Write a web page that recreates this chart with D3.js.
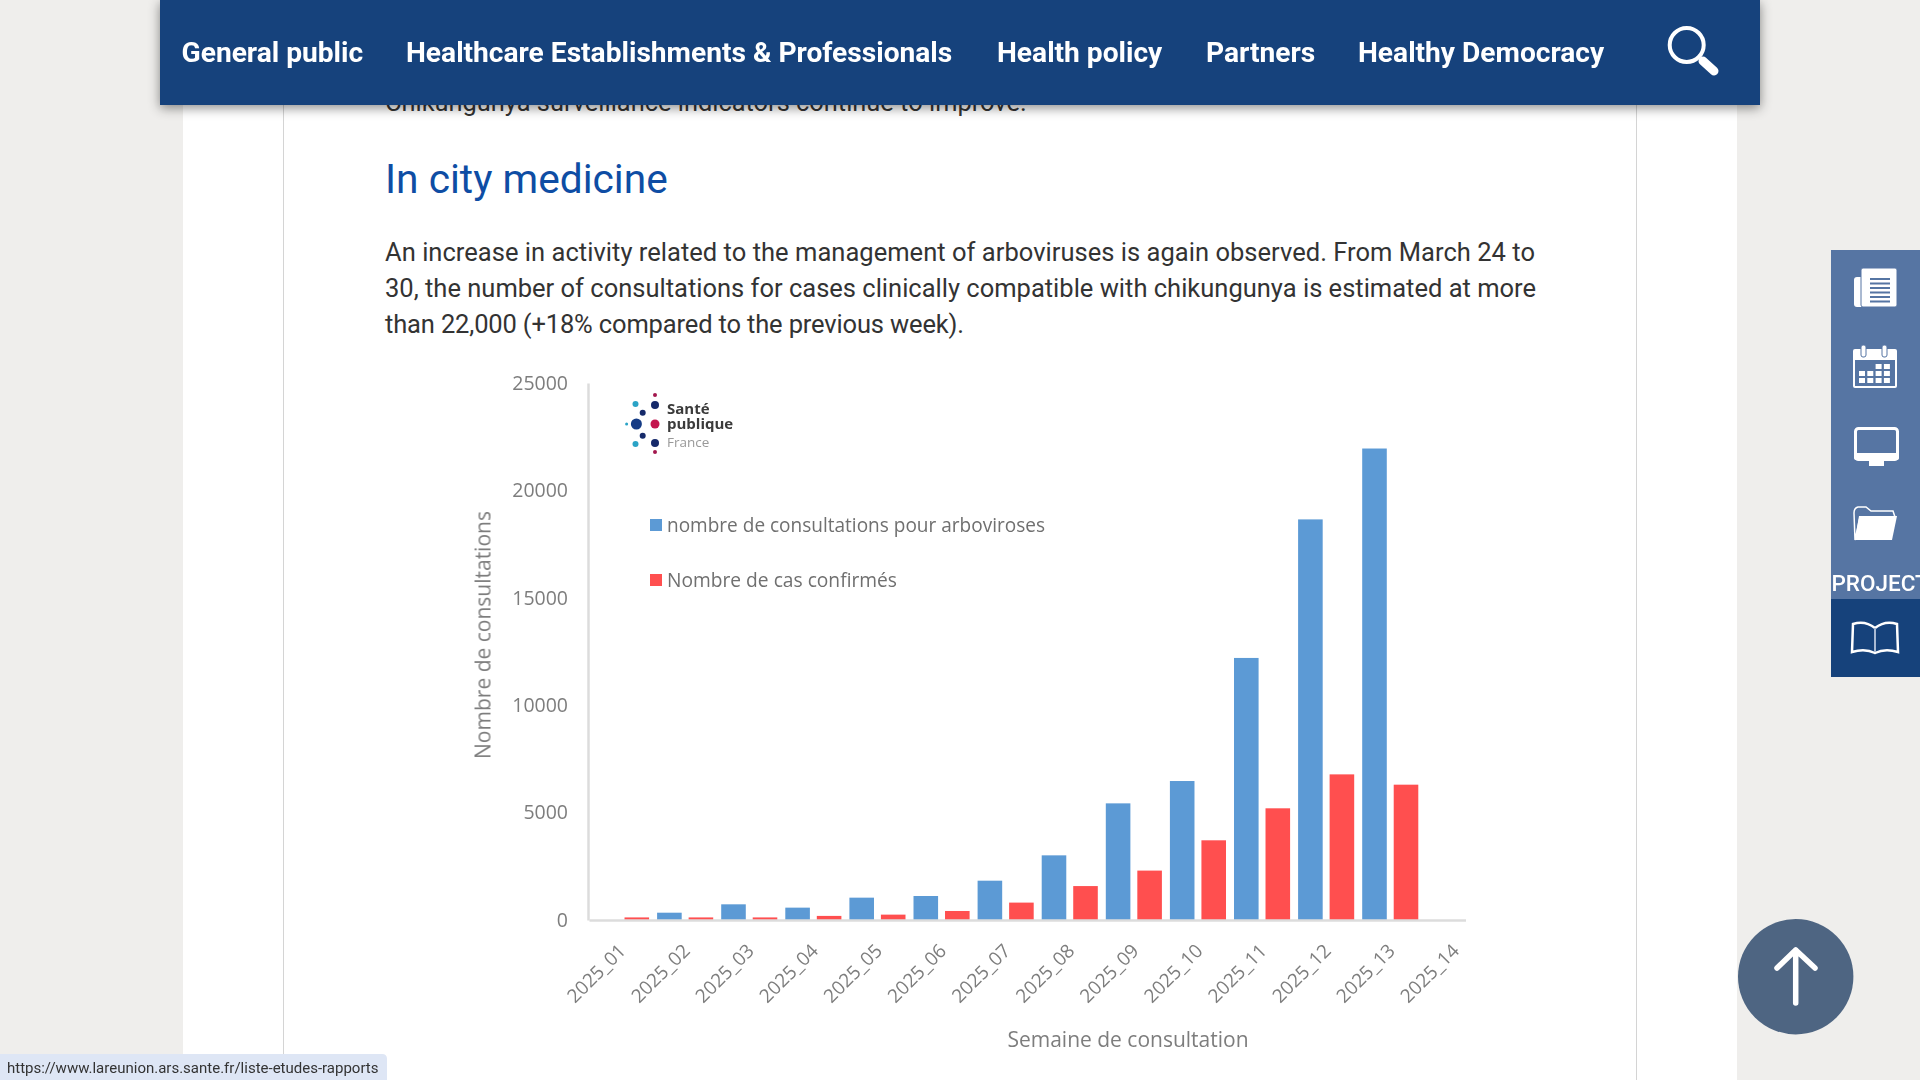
<!DOCTYPE html>
<html><head><meta charset="utf-8">
<script src="https://cdn.jsdelivr.net/npm/d3@7/dist/d3.min.js"></script>
<style>html,body{margin:0;padding:0;background:#efeeec;overflow:hidden}svg{display:block}</style>
</head><body><div id="c"></div>
<script>
const weeks = ["2025_01","2025_02","2025_03","2025_04","2025_05","2025_06","2025_07","2025_08","2025_09","2025_10","2025_11","2025_12","2025_13","2025_14"];
const consultations = [0,340,730,575,1040,1117,1830,3010,5430,6470,12200,18650,21950,null];
const confirmedCases = [120,120,120,190,250,420,810,1580,2300,3710,5200,6780,6300,null];
const yTicks = [0,5000,10000,15000,20000,25000];
const seriesNames = ["nombre de consultations pour arboviroses","Nombre de cas confirmés"];
const seriesColors = ["#5b9ad5","#ff4f50"];
const navItems = [["General public",181.5],["Healthcare Establishments & Professionals",406],["Health policy",997],["Partners",1206],["Healthy Democracy",1358]];
const paragraph = ["An increase in activity related to the management of arboviruses is again observed. From March 24 to","30, the number of consultations for cases clinically compatible with chikungunya is estimated at more","than 22,000 (+18% compared to the previous week)."];
const paragraphWidths = [1150,1151,579];
const legendWidths = [378,230];

const svg = d3.select("#c").append("svg").attr("width",1920).attr("height",1080);
const defs = svg.append("defs");
defs.append("filter").attr("id","soft").attr("x","-5%").attr("y","-5%").attr("width","110%").attr("height","110%")
  .append("feGaussianBlur").attr("stdDeviation",0.55);
defs.append("clipPath").attr("id","crop").append("rect").attr("x",440).attr("y",360).attr("width",1026).attr("height",700);
const sh = defs.append("filter").attr("id","shadow").attr("x","-2%").attr("y","-20%").attr("width","104%").attr("height","150%");
sh.append("feDropShadow").attr("dx",0).attr("dy",3).attr("stdDeviation",6).attr("flood-color","#000").attr("flood-opacity",0.45);

// page
svg.append("rect").attr("width",1920).attr("height",1080).attr("fill","#efeeec");
svg.append("rect").attr("x",183).attr("width",1554).attr("height",1080).attr("fill","#fff");
[283.5,1636.5].forEach(x=>svg.append("line").attr("x1",x).attr("x2",x).attr("y1",0).attr("y2",1080).attr("stroke","#d4d4d4"));

const bodyFont = "Roboto, sans-serif";
svg.append("text").attr("x",385).attr("y",111).attr("font-family",bodyFont).attr("font-size",25.4).attr("fill","#333")
  .text("Chikungunya surveillance indicators continue to improve.");
svg.append("text").attr("x",385).attr("y",193).attr("font-family",bodyFont).attr("font-size",40.7).attr("fill","#0e4da4").text("In city medicine");
svg.selectAll("text.p").data(paragraph).join("text").attr("class","p").attr("x",385).attr("y",(d,i)=>261+i*36)
  .attr("font-family",bodyFont).attr("font-size",25.5).attr("fill","#333")
  .attr("textLength",(d,i)=>paragraphWidths[i]).attr("lengthAdjust","spacing").text(d=>d);

// chart
const chart = svg.append("g").attr("clip-path","url(#crop)").append("g").attr("filter","url(#soft)");
const chartFont = "'Open Sans', sans-serif";
const axisGrey = "#7d7d7d";
const x0 = d3.scaleBand().domain(weeks).range([589,589+64.1*weeks.length]);
const x1 = d3.scaleBand().domain(seriesNames).range([0,x0.bandwidth()]).paddingInner(0.22).paddingOuter(0.127);
const y = d3.scaleLinear().domain([0,25000]).range([920,383]);

const yAxis = chart.append("g").attr("transform","translate(588,0)").call(d3.axisLeft(y).tickValues(yTicks).tickSize(0).tickPadding(20).tickFormat(d3.format("d")));
yAxis.select(".domain").attr("stroke","#dcdcdc").attr("stroke-width",2.5);
yAxis.selectAll("text").attr("font-family",chartFont).attr("font-size",19.5).attr("fill",axisGrey);

[consultations,confirmedCases].forEach((vals,s)=>{
  chart.append("g").selectAll("rect").data(weeks.map((w,i)=>({w,v:vals[i]})).filter(d=>d.v)).join("rect")
    .attr("x",d=>x0(d.w)+x1(seriesNames[s])).attr("width",x1.bandwidth())
    .attr("y",d=>y(d.v)).attr("height",d=>y(0)-y(d.v)).attr("fill",seriesColors[s]);
});

const xAxis = chart.append("g").attr("transform","translate(0,920)").call(d3.axisBottom(x0).tickSize(0));
xAxis.select(".domain").attr("stroke","#dcdcdc").attr("stroke-width",2.5);
xAxis.selectAll("text").attr("font-family",chartFont).attr("font-size",19).attr("fill",axisGrey)
  .attr("text-anchor","end").attr("dy",0).attr("y",0).attr("transform","translate(6,32) rotate(-45)");

chart.append("text").attr("transform","translate(490.5,635) rotate(-90)").attr("text-anchor","middle")
  .attr("font-family",chartFont).attr("font-size",21).attr("fill",axisGrey).text("Nombre de consultations");
chart.append("text").attr("x",1128).attr("y",1046.5).attr("text-anchor","middle")
  .attr("font-family",chartFont).attr("font-size",21).attr("fill",axisGrey).text("Semaine de consultation");

// legend
const legY = [519,574];
seriesNames.forEach((n,i)=>{
  chart.append("rect").attr("x",650).attr("y",legY[i]).attr("width",12).attr("height",12).attr("fill",seriesColors[i]);
  chart.append("text").attr("x",667).attr("y",legY[i]+13).attr("font-family",chartFont).attr("font-size",20).attr("fill","#6f6f6f")
    .attr("textLength",legendWidths[i]).attr("lengthAdjust","spacingAndGlyphs").text(n);
});

// logo
const logoDots = [[655,395,2,"#a3154f"],[655,405,4,"#14296b"],[635.5,404,3,"#2aa3c6"],[642.7,412.7,3,"#14296b"],[636.4,424,5.5,"#123a85"],[626.6,424,1.5,"#2aa3c6"],[655,424,4.5,"#c4124f"],[642.7,435.7,3,"#14296b"],[635.5,444,3,"#2aa3c6"],[655,443,4,"#14296b"],[655,452,2,"#a3154f"]];
chart.selectAll("circle.logo").data(logoDots).join("circle").attr("class","logo").attr("cx",d=>d[0]).attr("cy",d=>d[1]).attr("r",d=>d[2]).attr("fill",d=>d[3]);
[["Santé",414,15,"#3a3a3a",700],["publique",429,15,"#3a3a3a",700],["France",447,13.5,"#999",400]].forEach(t=>{
  chart.append("text").attr("x",667).attr("y",t[1]).attr("font-family",chartFont).attr("font-size",t[2]).attr("font-weight",t[4]).attr("fill",t[3]).text(t[0]);
});

// nav
svg.append("rect").attr("x",160).attr("y",0).attr("width",1600).attr("height",105).attr("fill","#16427b").attr("filter","url(#shadow)");
svg.selectAll("text.nav").data(navItems).join("text").attr("class","nav").attr("x",d=>d[1]).attr("y",62)
  .attr("font-family",bodyFont).attr("font-weight",700).attr("font-size",28.15).attr("fill","#fff").text(d=>d[0]);
const search = svg.append("g").attr("fill","none").attr("stroke","#fff").attr("stroke-linecap","round");
search.append("circle").attr("cx",1686.7).attr("cy",45).attr("r",17).attr("stroke-width",4);
search.append("line").attr("x1",1703).attr("y1",61).attr("x2",1714).attr("y2",71).attr("stroke-width",9);

// side bar
const sideBlue = "#5675a3";
svg.append("rect").attr("x",1831).attr("y",250).attr("width",89).attr("height",349).attr("fill",sideBlue);
svg.append("rect").attr("x",1831).attr("y",599).attr("width",89).attr("height",78).attr("fill","#16427b");
svg.append("text").attr("x",1831.5).attr("y",591).attr("font-family",bodyFont).attr("font-weight",500).attr("font-size",22.5).attr("fill","#fff").text("PROJECT");
const ic = svg.append("g");
// newspaper
ic.append("rect").attr("x",1854).attr("y",277).attr("width",10).attr("height",30).attr("rx",3).attr("fill","#fff");
ic.append("rect").attr("x",1861).attr("y",268).attr("width",36).attr("height",39).attr("rx",2).attr("fill","#fff").attr("stroke",sideBlue).attr("stroke-width",1);
d3.range(6).forEach(i=>ic.append("rect").attr("x",1870).attr("y",278+i*4.5).attr("width",20).attr("height",2).attr("fill",sideBlue));
// calendar
ic.append("rect").attr("x",1853).attr("y",349).attr("width",44).attr("height",39).attr("rx",2).attr("fill","#fff");
ic.append("rect").attr("x",1855).attr("y",360).attr("width",40).attr("height",26).attr("fill",sideBlue);
[[2,0],[3,0],[0,1],[1,1],[2,1],[3,1],[0,2],[1,2],[2,2],[3,2]].forEach(c=>ic.append("rect").attr("x",1859+c[0]*8.3).attr("y",364+c[1]*7).attr("width",6).attr("height",5).attr("fill","#fff"));
[1861,1882].forEach(x=>ic.append("rect").attr("x",x).attr("y",345).attr("width",5).attr("height",12).attr("rx",2).attr("fill","#fff").attr("stroke",sideBlue));
// monitor
ic.append("rect").attr("x",1855.5).attr("y",428.5).attr("width",42).attr("height",31).attr("rx",3).attr("fill",sideBlue).attr("stroke","#fff").attr("stroke-width",3);
ic.append("rect").attr("x",1854).attr("y",453).attr("width",45).attr("height",7).attr("rx",2).attr("fill","#fff");
ic.append("rect").attr("x",1869).attr("y",460).attr("width",15).attr("height",6).attr("fill","#fff");
// folder
ic.append("path").attr("d","M1855 540 L1854 513 Q1854 508 1858 507 L1866 507 L1871 511 L1893 511 L1895 517 L1860 517 Z").attr("fill",sideBlue).attr("stroke","#fff").attr("stroke-width",1.5);
ic.append("path").attr("d","M1855 540 L1859 516 L1897 516 L1892 540 Z").attr("fill","#fff");
// book
ic.append("path").attr("d","M1875 628 Q1865 620 1853 624 L1852 652 Q1865 648 1875 653 Q1885 648 1898 652 L1897 624 Q1885 620 1875 628 Z").attr("fill","none").attr("stroke","#fff").attr("stroke-width",2.5);
ic.append("line").attr("x1",1875).attr("x2",1875).attr("y1",628).attr("y2",652).attr("stroke","#a9bad3").attr("stroke-width",2);

// back to top
svg.append("circle").attr("cx",1795.7).attr("cy",976.7).attr("r",57.7).attr("fill","#4e6582");
svg.append("path").attr("d","M1777 968 L1795.7 950 L1815 968 M1795.7 950 L1795.7 1003").attr("fill","none").attr("stroke","#fff").attr("stroke-width",5.5).attr("stroke-linecap","round").attr("stroke-linejoin","round");

// status bar
svg.append("path").attr("d","M0 1054 H382 Q387 1054 387 1059 V1080 H0 Z").attr("fill","#dee6f5");
svg.append("text").attr("x",7).attr("y",1073).attr("font-family",bodyFont).attr("font-size",15).attr("fill","#333").text("https://www.lareunion.ars.sante.fr/liste-etudes-rapports");
</script>
</body></html>
